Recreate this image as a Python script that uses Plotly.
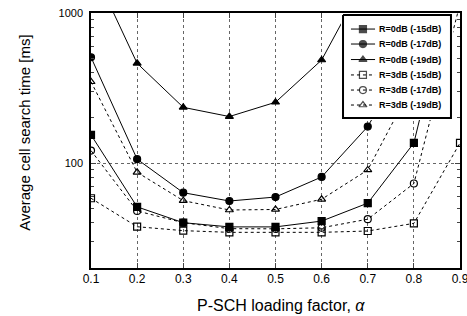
import plotly.graph_objects as go

alpha = [0.1, 0.2, 0.3, 0.4, 0.5, 0.6, 0.7, 0.8, 0.9]
tick_text = ["0.1", "0.2", "0.3", "0.4", "0.5", "0.6", "0.7", "0.8", "0.9"]

names = ["R=0dB (-15dB)", "R=0dB (-17dB)", "R=0dB (-19dB)",
         "R=3dB (-15dB)", "R=3dB (-17dB)", "R=3dB (-19dB)"]

r0_15 = [154, 51, 40, 37.5, 37.5, 41, 54, 136, 2500]
r0_17 = [507, 106, 63.4, 55.8, 59.3, 80.7, 175, 600, 3000]
r0_19 = [2100, 462, 235, 204, 254, 486, 1800, 5000, 9000]
r3_15 = [58.2, 37.6, 35.4, 34.5, 34.5, 34.5, 35.2, 39.6, 136]
r3_17 = [121, 47.9, 40, 36.5, 36.4, 37, 42.2, 73, 1150]
r3_19 = [348, 86.7, 56.1, 48.6, 49, 57.3, 89.9, 344, 1500]

series = [r0_15, r0_17, r0_19, r3_15, r3_17, r3_19]
symbols = ["square", "circle", "triangle-up", "square-open", "circle-open", "triangle-up-open"]
dashes = ["solid", "solid", "solid", "dot", "dot", "dot"]

fig = go.Figure()
for nm, ys, sym, ds in zip(names, series, symbols, dashes):
    fig.add_trace(go.Scatter(
        x=alpha, y=ys, name=nm, mode="lines+markers", showlegend=False,
        line=dict(color="black", width=1, dash=ds),
        marker=dict(symbol=sym, size=7, color="black",
                    line=dict(color="black", width=1.2)),
        xaxis="x", yaxis="y",
    ))

# ---- legend box drawn in an overlay subplot (x2/y2 in 0..1 units) ----
fig.add_trace(go.Scatter(
    x=[0.018, 0.982, 0.982, 0.018, 0.018], y=[0.981, 0.981, 0.019, 0.019, 0.981],
    mode="lines", fill="toself", fillcolor="white",
    line=dict(color="black", width=2), hoverinfo="skip", showlegend=False,
    xaxis="x2", yaxis="y2",
))
row_y = [0.850, 0.710, 0.565, 0.421, 0.280, 0.140]
for nm, sym, ds, ry in zip(names, symbols, dashes, row_y):
    fig.add_trace(go.Scatter(
        x=[0.089, 0.196, 0.304], y=[ry, ry, ry], mode="lines+markers",
        line=dict(color="black", width=1, dash=ds),
        marker=dict(symbol=sym, size=[0, 7, 0], color="black",
                    line=dict(color="black", width=1.2)),
        hoverinfo="skip", showlegend=False, xaxis="x2", yaxis="y2",
    ))
    fig.add_annotation(x=0.321, y=ry, xref="x2", yref="y2", text=nm,
                       showarrow=False, xanchor="left", yanchor="middle",
                       font=dict(size=9, color="black", weight="bold"))

fig.update_layout(
    width=467, height=316,
    margin=dict(l=91, r=7, t=13, b=48),
    paper_bgcolor="white", plot_bgcolor="white",
    font=dict(family="Liberation Sans, Arial, sans-serif", color="black"),
    showlegend=False,
    xaxis2=dict(domain=[0.6775, 0.981], range=[0, 1], visible=False, fixedrange=True,
                anchor="y2"),
    yaxis2=dict(domain=[0.5804, 1.0], range=[0, 1], visible=False, fixedrange=True,
                anchor="x2"),
)

fig.layout.xaxis.update(
    range=[0.1, 0.9], tickvals=alpha, ticktext=tick_text,
    ticks="inside", ticklen=5, tickwidth=1.2, automargin=False,
    showline=True, linecolor="black", linewidth=1.5, mirror="ticks",
    showgrid=True, gridcolor="#666", griddash="dot", gridwidth=1,
    zeroline=False, ticklabelstandoff=-1, ticklabeloverflow="allow",
    tickfont=dict(size=12),
)
fig.layout.yaxis.update(
    type="log", range=[1.3, 3],
    tickvals=[100, 1000], ticktext=["100", "1000"],
    ticks="inside", ticklen=5, tickwidth=1.2, automargin=False,
    minor=dict(ticks="inside", ticklen=3,
               tickvals=[30, 40, 50, 60, 70, 80, 90, 200, 300, 400, 500, 600, 700, 800, 900],
               showgrid=False),
    showline=True, linecolor="black", linewidth=1.5, mirror="ticks",
    showgrid=True, gridcolor="#666", griddash="dot", gridwidth=1,
    zeroline=False, ticklabelstandoff=4, ticklabeloverflow="allow",
    tickfont=dict(size=11),
)

fig.add_annotation(text="Average cell search time [ms]", xref="paper", yref="paper",
                   x=-0.179, y=0.53, textangle=-90, showarrow=False,
                   xanchor="center", yanchor="middle", font=dict(size=15))
fig.add_annotation(text="P-SCH loading factor, <i>α</i>", xref="paper", yref="paper",
                   x=0.515, y=-0.149, showarrow=False,
                   xanchor="center", yanchor="middle", font=dict(size=16))

fig.write_html("out.html", config={"displayModeBar": False},
               post_script="document.body.style.margin='0';document.body.style.overflow='hidden';")
